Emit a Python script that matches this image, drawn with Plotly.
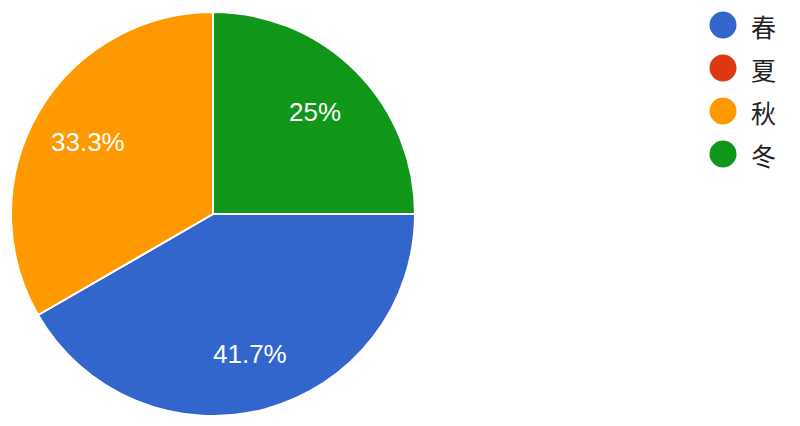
import math
import plotly.graph_objects as go

labels = ["春", "夏", "秋", "冬"]
values = [5, 0, 4, 3]
colors = ["#3366cc", "#dc3912", "#ff9900", "#109618"]

W, H = 800, 426
OFF = 8  # page body margin offset in pixels

# pie geometry in page pixels
PIE_CX, PIE_CY, PIE_R = 213, 214, 202
ROTATION = 90
LABEL_FRAC = 0.715


def px_x(x):
    return (x - OFF) / W


def px_y(y):
    return 1 - (y - OFF) / H


fig = go.Figure()
fig.add_trace(go.Pie(
    labels=labels,
    values=values,
    sort=False,
    direction="clockwise",
    rotation=ROTATION,
    marker=dict(colors=colors, line=dict(color="white", width=2)),
    textinfo="none",
    domain=dict(x=[px_x(PIE_CX - PIE_R), px_x(PIE_CX + PIE_R)],
                y=[px_y(PIE_CY + PIE_R), px_y(PIE_CY - PIE_R)]),
    showlegend=False,
    hoverinfo="label+percent",
))

annotations, shapes = [], []

# percentage labels, computed from the values
total = sum(values)
cum = 0
for v in values:
    if v > 0:
        ang = math.radians(ROTATION + 360 * (cum + v / 2) / total)
        x = PIE_CX + LABEL_FRAC * PIE_R * math.sin(ang)
        y = PIE_CY - LABEL_FRAC * PIE_R * math.cos(ang)
        pct = f"{100 * v / total:.3g}%"
        annotations.append(dict(
            text=pct, xref="paper", yref="paper", x=px_x(x), y=px_y(y),
            xanchor="center", yanchor="middle", showarrow=False,
            font=dict(family="Arial, Liberation Sans", size=26, color="white"),
        ))
    cum += v

# legend built from the label/colour lists
leg_x, leg_y0, leg_dy, leg_r = 723, 25, 43, 13.5
for i, (lab, col) in enumerate(zip(labels, colors)):
    cy = leg_y0 + i * leg_dy
    shapes.append(dict(
        type="circle", xref="paper", yref="paper",
        x0=px_x(leg_x - leg_r), x1=px_x(leg_x + leg_r),
        y0=px_y(cy + leg_r), y1=px_y(cy - leg_r),
        fillcolor=col, line=dict(width=0),
    ))
    annotations.append(dict(
        text=lab, xref="paper", yref="paper",
        x=px_x(749), y=px_y(cy + 1), xanchor="left", yanchor="middle",
        showarrow=False,
        font=dict(family="Noto Sans CJK SC", size=25, color="#222222"),
    ))

fig.update_layout(
    width=W, height=H,
    margin=dict(l=0, r=0, t=0, b=0),
    paper_bgcolor="white", plot_bgcolor="white",
    shapes=shapes, annotations=annotations,
)

fig.write_html("out.html")
